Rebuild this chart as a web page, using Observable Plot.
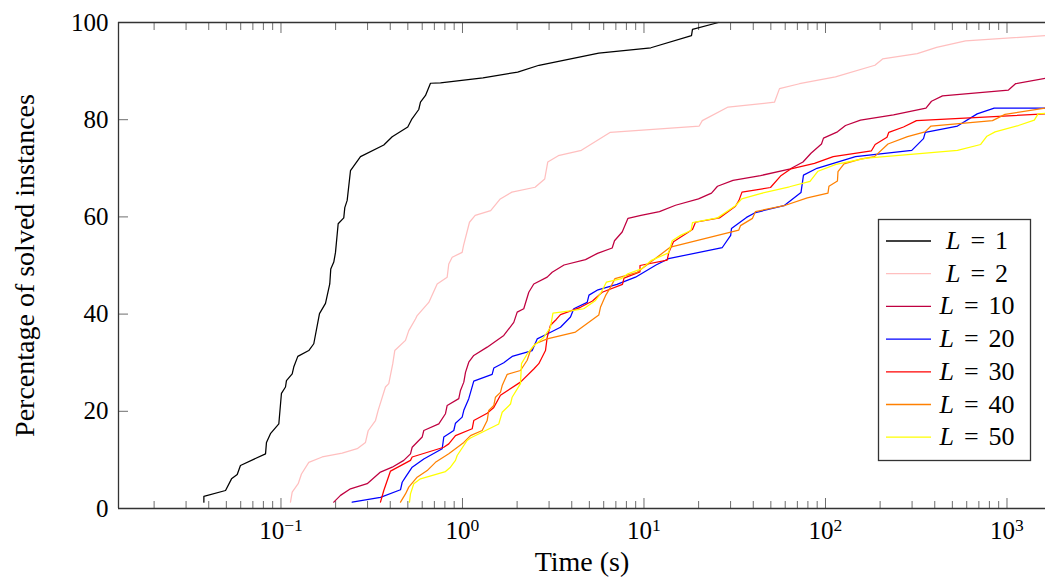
<!DOCTYPE html>
<html><head><meta charset="utf-8">
<script src="https://cdn.jsdelivr.net/npm/d3@7"></script>
<script src="https://cdn.jsdelivr.net/npm/@observablehq/plot@0.6"></script>
<style>html,body{margin:0;padding:0;background:#fff;}</style>
</head><body><div id="chart"></div>
<script>
// Series: [time (s), percentage of solved instances]
const L1 = [[0.0376,1.3],[0.0376,2.5],[0.0495,3.7],[0.0534,6.1],[0.0574,7.0],[0.0598,8.85],[0.0822,11.25],[0.0832,13.6],[0.0875,15.4],[0.0973,17.4],[0.1006,23.7],[0.1059,25.0],[0.1072,26.3],[0.1153,27.7],[0.1176,29.1],[0.1238,31.3],[0.1423,32.5],[0.1516,33.9],[0.163,40.1],[0.1759,42.2],[0.1857,46.2],[0.1881,49.3],[0.1954,50.7],[0.1997,52.7],[0.2066,58.6],[0.2218,59.8],[0.2247,61.9],[0.2316,63.4],[0.2415,69.5],[0.2742,72.4],[0.3685,74.8],[0.41,76.5],[0.4995,78.5],[0.5236,80.0],[0.5743,82.1],[0.5869,83.6],[0.6256,85.0],[0.6664,87.5],[0.7565,87.6],[1.297,88.6],[2.014,89.8],[2.64,91.2],[5.636,93.7],[10.91,94.8],[18.27,97.3],[18.5,98.6],[25.73,100]];
const L2 = [[0.1128,1.3],[0.1153,3.35],[0.1244,5.1],[0.1297,7.1],[0.1423,9.5],[0.1687,10.6],[0.2174,11.4],[0.263,12.3],[0.2921,13.6],[0.3022,16.0],[0.3316,18.1],[0.3431,20.2],[0.3764,25.0],[0.3925,25.7],[0.413,29.8],[0.4236,32.5],[0.4853,34.6],[0.5059,36.6],[0.5508,39.0],[0.5628,39.7],[0.6522,42.4],[0.7253,46.2],[0.8235,47.6],[0.8404,50.3],[0.8777,51.7],[0.996,52.7],[1.013,54.1],[1.093,58.9],[1.175,60.3],[1.43,61.3],[1.615,63.7],[1.872,65.1],[2.512,66.1],[2.838,67.8],[2.951,71.3],[3.372,72.6],[4.52,73.7],[6.529,77.4],[20.15,78.7],[20.95,79.8],[29.07,82.6],[52.36,83.6],[55.8,86.4],[71.9,87.4],[113.5,88.8],[187.2,91.2],[206.4,92.5],[320.4,93.6],[409.4,94.9],[591.4,96.2],[1630,97.3]];
const L10 = [[0.1954,1.3],[0.2128,2.7],[0.2415,4.05],[0.2985,5.1],[0.3533,7.5],[0.41,8.5],[0.4749,9.9],[0.517,11.25],[0.5283,12.6],[0.5998,14.7],[0.6121,16.05],[0.7405,17.4],[0.8059,19.5],[0.8235,21.2],[0.9541,22.6],[0.975,24.3],[1.017,26.0],[1.039,28.0],[1.083,30.1],[1.154,31.5],[1.368,33.2],[1.689,35.6],[1.917,38.3],[2.002,40.4],[2.176,41.1],[2.319,44.5],[2.471,46.2],[2.929,47.6],[3.12,48.6],[3.625,50.1],[4.762,51.2],[5.543,52.5],[6.68,53.6],[6.88,55.1],[7.585,56.9],[8.164,59.7],[9.627,60.3],[12.17,61.1],[14.92,62.4],[19.97,63.7],[23.55,64.9],[25.41,66.3],[30.93,67.5],[43.85,68.5],[64.15,69.9],[75.16,71.3],[83.2,73.1],[95.06,75.0],[97.5,76.2],[116.4,77.5],[128.9,78.8],[155.9,79.9],[237,81.0],[357.8,82.4],[383.7,83.8],[441.2,84.9],[1019,86.1],[1114,87.4],[1630,88.5]];
const L20 = [[0.2468,1.3],[0.3533,2.3],[0.4555,3.85],[0.4654,5.4],[0.4853,6.45],[0.5283,8.5],[0.6121,10.2],[0.7731,12.3],[0.7889,14.7],[0.8956,16.05],[0.915,17.55],[0.996,18.8],[1.017,20.2],[1.083,22.6],[1.154,26.2],[1.457,27.6],[1.488,28.9],[1.689,30.0],[1.878,31.3],[2.421,32.5],[2.58,34.9],[2.929,35.9],[3.467,37.3],[3.936,39.4],[4.104,41.1],[4.864,42.4],[4.977,43.9],[5.579,45.0],[7.1,46.1],[8.977,47.6],[11.65,50.1],[13.65,51.4],[27.01,53.7],[30.04,56.2],[30.34,57.6],[36.71,59.9],[41.15,60.9],[59.07,62.3],[73.28,65.0],[75.64,68.6],[89.79,70.0],[146.3,72.4],[298.9,73.7],[346.7,76.1],[354.7,77.4],[533.6,78.7],[685,81.2],[850.3,82.4],[1630,82.4]];
const L30 = [[0.3533,1.3],[0.3685,3.7],[0.4012,7.7],[0.517,9.9],[0.5283,10.6],[0.7889,12.6],[0.8404,13.3],[0.915,15.0],[1.131,16.4],[1.154,18.1],[1.368,19.6],[1.488,20.8],[1.619,23.3],[2.087,26.0],[2.471,28.7],[2.633,29.8],[2.866,32.5],[2.929,35.2],[3.054,37.7],[3.287,38.9],[3.467,39.9],[4.468,41.4],[5.202,42.7],[5.884,44.5],[7.613,46.1],[7.76,47.4],[9.506,48.7],[9.506,50.0],[13.42,51.1],[13.7,52.7],[14.54,54.9],[18.5,57.4],[19.22,58.9],[26.06,59.8],[31.92,62.2],[33.37,63.4],[34.67,65.1],[49.77,66.05],[56.51,68.4],[64.56,69.9],[86.98,71.0],[110.3,72.4],[179.2,73.6],[187.8,74.9],[218.2,76.4],[223.3,77.4],[269,78.5],[317.2,79.8],[1630,81.2]];
const L40 = [[0.4555,1.3],[0.4853,3.0],[0.5059,4.4],[0.5628,6.45],[0.6391,7.8],[0.7098,9.5],[0.8404,11.25],[1.017,13.6],[1.107,15.0],[1.284,16.05],[1.368,18.1],[1.396,20.2],[1.488,21.2],[1.52,22.9],[1.619,23.9],[1.655,25.3],[1.764,27.6],[2.087,28.4],[2.272,30.5],[2.369,32.5],[2.525,33.9],[2.929,34.9],[4.194,36.3],[5.636,39.8],[5.757,41.4],[6.137,43.8],[6.539,45.5],[6.922,47.3],[9.174,48.6],[14.0,53.8],[33.29,57.3],[34.02,58.2],[39.61,59.7],[41.15,61.1],[59.07,62.3],[79.38,63.9],[103.2,64.9],[104.5,66.3],[116.4,67.4],[117.2,69.3],[126.5,70.9],[155.9,71.9],[186.2,72.4],[221,75.0],[283.1,76.5],[353.4,77.5],[381.3,78.7],[832,79.8],[975,81.1],[1630,82.4]];
const L50 = [[0.5105,1.3],[0.517,3.0],[0.5391,5.1],[0.5869,6.1],[0.8059,7.6],[0.8587,8.5],[0.915,9.9],[0.935,10.9],[1.061,14.0],[1.107,14.5],[1.284,15.7],[1.585,17.4],[1.655,19.8],[1.839,21.5],[1.878,22.9],[2.087,25.7],[2.114,29.8],[2.272,31.8],[2.471,33.5],[2.805,35.2],[3.054,37.3],[3.151,40.2],[4.022,40.7],[4.66,41.1],[5.405,42.8],[5.757,44.2],[6.215,46.6],[7.516,47.3],[8.143,48.3],[9.687,49.3],[10.91,51.0],[13.65,52.6],[14.3,55.1],[15.89,56.2],[18.16,57.2],[18.5,58.8],[25.41,59.8],[31.92,62.3],[34.54,63.7],[43.85,64.8],[63.34,66.2],[82.16,67.3],[90.92,69.4],[114.2,70.8],[168.2,72.1],[306.5,72.9],[533.6,73.7],[716.2,74.9],[775.1,76.6],[860,77.5],[1156,78.8],[1414,79.9],[1484,81.2],[1630,81.3]];

const seriesNames = ["1", "2", "10", "20", "30", "40", "50"];
const seriesData = [L1, L2, L10, L20, L30, L40, L50];
const seriesColors = ["#000000", "#FFBFBF", "#BF0040", "#0000FF", "#FF0000", "#FF8000", "#FFFF00"];

const xDomain = [0.01273, 1630];
const yDomain = [0, 100];
const majorX = [0.1, 1, 10, 100, 1000];
const minorX = [0.02,0.03,0.04,0.05,0.06,0.07,0.08,0.09, 0.2,0.3,0.4,0.5,0.6,0.7,0.8,0.9, 2,3,4,5,6,7,8,9, 20,30,40,50,60,70,80,90, 200,300,400,500,600,700,800,900];
const yTicks = [0, 20, 40, 60, 80, 100];
const xLabel = "Time (s)";
const yLabel = "Percentage of solved instances";

const rows = [];
seriesData.forEach((arr, i) => arr.forEach(([t, p]) => rows.push({t, p, s: seriesNames[i]})));

const FONT = "'Liberation Serif', 'DejaVu Serif', serif";
const TICK = "#6e6e6e";
const FRAME = "#333";
const blank = () => "";

const chart = Plot.plot({
  width: 1045, height: 584,
  marginLeft: 118, marginRight: 0, marginTop: 22, marginBottom: 76,
  style: {fontFamily: FONT, fontSize: "25px", background: "#fff", color: "#000", overflow: "visible"},
  x: {type: "log", domain: xDomain},
  y: {domain: yDomain},
  color: {domain: seriesNames, range: seriesColors},
  marks: [
    Plot.axisX({anchor: "bottom", ticks: minorX, tickSize: -7, tickFormat: blank, stroke: TICK, label: null}),
    Plot.axisX({anchor: "bottom", ticks: majorX, tickSize: -10, tickFormat: blank, stroke: TICK, label: null}),
    Plot.axisX({anchor: "top", ticks: minorX, tickSize: -7, tickFormat: blank, stroke: TICK, label: null}),
    Plot.axisX({anchor: "top", ticks: majorX, tickSize: -10, tickFormat: blank, stroke: TICK, label: null}),
    Plot.axisY({anchor: "left", ticks: yTicks, tickSize: -10, tickFormat: blank, stroke: TICK, label: null}),
    Plot.axisX({anchor: "bottom", ticks: majorX, tickSize: 0, tickPadding: 13, label: null,
      tickFormat: d => { const e = Math.round(Math.log10(d)); return "EXP" + (e < 0 ? "\u2212" + (-e) : String(e)); }}),
    Plot.axisY({anchor: "left", ticks: yTicks, tickSize: 0, tickPadding: 10, label: null, tickFormat: d => String(d)}),
    Plot.line(rows, {x: "t", y: "p", z: "s", stroke: "s", strokeWidth: 1.25, strokeLinejoin: "round"}),
    Plot.ruleY([yDomain[0], yDomain[1]], {stroke: FRAME, strokeWidth: 1.3}),
    Plot.ruleX([xDomain[0]], {stroke: FRAME, strokeWidth: 1.3}),
    Plot.text([xLabel], {frameAnchor: "bottom", dy: 62, fontSize: 28, fill: "#000", textAnchor: "middle"}),
    Plot.text([yLabel], {frameAnchor: "left", dx: -93, rotate: -90, fontSize: 28, fill: "#000", textAnchor: "middle"})
  ]
});

document.getElementById("chart").appendChild(chart);

// superscript exponents on x tick labels
d3.select(chart).selectAll("text").each(function() {
  const el = d3.select(this);
  const txt = this.textContent;
  if (txt && txt.startsWith("EXP")) {
    const e = txt.slice(3);
    el.text(null);
    el.append("tspan").text("10");
    el.append("tspan").attr("dy", "-0.5em").attr("font-size", "70%").text(e);
  }
});

// legend box
const svg = d3.select(chart);
const lg = svg.append("g").attr("font-family", FONT).attr("font-size", 26);
lg.append("rect").attr("x", 878.5).attr("y", 219.5).attr("width", 152).attr("height", 241)
  .attr("fill", "#fff").attr("stroke", FRAME).attr("stroke-width", 1.3);
seriesNames.forEach((n, i) => {
  const cy = 241 + i * 32.7;
  lg.append("line").attr("x1", 886).attr("x2", 931).attr("y1", cy).attr("y2", cy)
    .attr("stroke", seriesColors[i]).attr("stroke-width", 1.3);
  const t = lg.append("text").attr("x", 977).attr("y", cy + 8).attr("text-anchor", "middle").attr("fill", "#000");
  t.append("tspan").attr("font-style", "italic").text("L");
  t.append("tspan").attr("dx", 10).text("=");
  t.append("tspan").attr("dx", 10).text(n);
});
</script>
</body></html>
